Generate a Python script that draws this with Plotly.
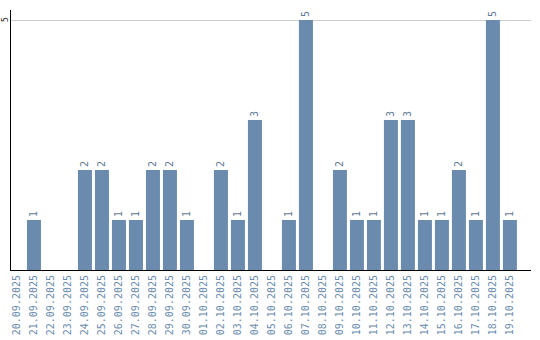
import plotly.graph_objects as go

dates = ["20.09.2025", "21.09.2025", "22.09.2025", "23.09.2025", "24.09.2025",
         "25.09.2025", "26.09.2025", "27.09.2025", "28.09.2025", "29.09.2025",
         "30.09.2025", "01.10.2025", "02.10.2025", "03.10.2025", "04.10.2025",
         "05.10.2025", "06.10.2025", "07.10.2025", "08.10.2025", "09.10.2025",
         "10.10.2025", "11.10.2025", "12.10.2025", "13.10.2025", "14.10.2025",
         "15.10.2025", "16.10.2025", "17.10.2025", "18.10.2025", "19.10.2025"]
counts = [0, 1, 0, 0, 2, 2, 1, 1, 2, 2, 1, 0, 2, 1, 3, 0, 1, 5, 0, 2,
          1, 1, 3, 3, 1, 1, 2, 1, 5, 1]
labels = [str(v) if v > 0 else "" for v in counts]
y_ticks = [5]

fig = go.Figure(go.Bar(
    x=list(range(len(dates))), y=counts, text=labels,
    textposition="outside", textangle=-90, cliponaxis=False,
    textfont=dict(family="DejaVu Sans Mono", size=10, color="#5f7a96"),
    marker=dict(color="#6a8bad", line=dict(width=0)),
))

for v in y_ticks:
    fig.add_annotation(
        x=0, xref="paper", y=v, yref="y", text=str(v), showarrow=False,
        textangle=-90, xanchor="center", yanchor="middle", xshift=-6,
        borderpad=0,
        font=dict(family="DejaVu Sans Mono", size=8, color="#222222"),
    )

fig.update_layout(
    width=540, height=340,
    margin=dict(l=11, r=9, t=10, b=70, autoexpand=False),
    paper_bgcolor="white", plot_bgcolor="white",
    bargap=0.176, showlegend=False,
    xaxis=dict(
        range=[-0.35, 30.24], tickmode="array", automargin=False,
        tickvals=list(range(len(dates))), ticktext=dates, tickangle=-90,
        tickfont=dict(family="DejaVu Sans Mono", size=10, color="#6a8caf"),
        showgrid=False, showline=True, linecolor="black", linewidth=1,
        ticks="", zeroline=False,
    ),
    yaxis=dict(
        range=[0, 5.2], tickmode="array", tickvals=y_ticks, showticklabels=False,
        automargin=False,
        showgrid=True, gridcolor="#cccccc", gridwidth=1,
        showline=True, linecolor="black", linewidth=1, ticks="", zeroline=False,
    ),
)

fig.write_html("out.html")
